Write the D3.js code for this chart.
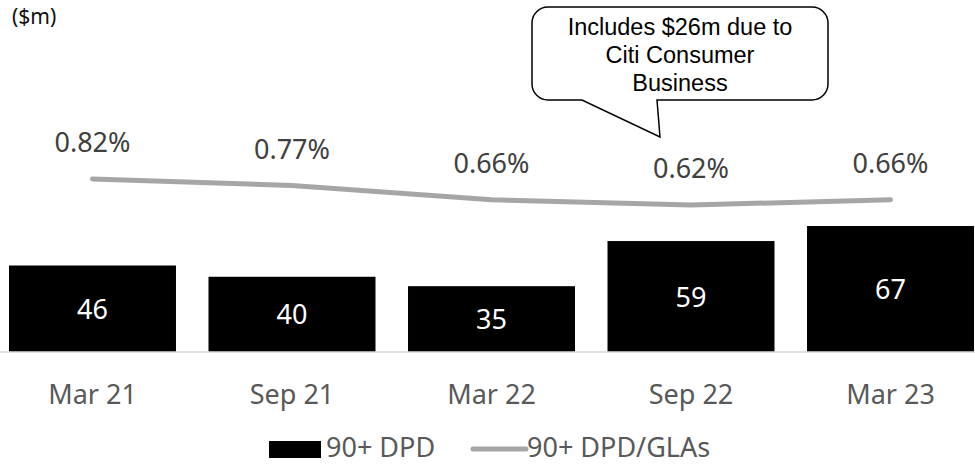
<!DOCTYPE html>
<html>
<head>
<meta charset="utf-8">
<script src="https://cdn.jsdelivr.net/npm/d3@7"></script>
<style>
  html, body { margin: 0; padding: 0; background: #fff; }
  svg { display: block; }
</style>
</head>
<body>
<script>
const categories = ["Mar 21", "Sep 21", "Mar 22", "Sep 22", "Mar 23"];
const dpdValues = [46, 40, 35, 59, 67];
const ratioValues = [0.82, 0.77, 0.66, 0.62, 0.66];
const ratioLabels = ["0.82%", "0.77%", "0.66%", "0.62%", "0.66%"];
const unitLabel = "($m)";
const calloutLines = ["Includes $26m due to", "Citi Consumer", "Business"];
const legendLabels = ["90+ DPD", "90+ DPD/GLAs"];

const W = 975, H = 464;
const svg = d3.select("body").append("svg").attr("width", W).attr("height", H);

const font = "'Noto Sans', sans-serif";

const x = d3.scaleBand().domain(categories).range([9, 974]).paddingInner(0.163).paddingOuter(0);
const y = d3.scaleLinear().domain([0, 67]).range([352, 226]);
const yr = d3.scaleLinear().domain([0, 1]).range([285.6, 155.6]);

// bars
svg.selectAll("rect.bar").data(dpdValues).join("rect")
  .attr("class", "bar")
  .attr("x", (d, i) => x(categories[i]))
  .attr("y", d => y(d))
  .attr("width", x.bandwidth())
  .attr("height", d => y(0) - y(d))
  .attr("fill", "#000");

// bar labels
svg.selectAll("text.barlab").data(dpdValues).join("text")
  .attr("class", "barlab")
  .attr("x", (d, i) => x(categories[i]) + x.bandwidth() / 2)
  .attr("y", d => (y(d) + y(0)) / 2 + 10)
  .attr("text-anchor", "middle")
  .attr("font-family", font).attr("font-size", 27)
  .attr("fill", "#fff")
  .text(d => d);

// x axis
const xAxis = d3.axisBottom(x).tickSize(0).tickPadding(0);
const gx = svg.append("g").attr("transform", "translate(0,352)").call(xAxis);
gx.select(".domain").remove();
gx.append("line").attr("x1", 0).attr("x2", W).attr("y1", 0).attr("y2", 0)
  .attr("stroke", "#d9d9d9").attr("stroke-width", 1.5);
gx.selectAll(".tick text")
  .attr("font-family", font).attr("font-size", 27).attr("fill", "#595959")
  .attr("dy", null).attr("y", 52);

// line
const line = d3.line()
  .x((d, i) => x(categories[i]) + x.bandwidth() / 2)
  .y(d => yr(d));
svg.append("path").datum(ratioValues)
  .attr("d", line)
  .attr("fill", "none")
  .attr("stroke", "#a6a6a6")
  .attr("stroke-width", 5)
  .attr("stroke-linecap", "round")
  .attr("stroke-linejoin", "round");

svg.selectAll("text.ratiolab").data(ratioValues).join("text")
  .attr("class", "ratiolab")
  .attr("x", (d, i) => x(categories[i]) + x.bandwidth() / 2)
  .attr("y", d => yr(d) - 27)
  .attr("text-anchor", "middle")
  .attr("font-family", font).attr("font-size", 27)
  .attr("fill", "#404040")
  .text((d, i) => ratioLabels[i]);

// unit label
svg.append("text").attr("x", 12).attr("y", 24)
  .attr("font-family", font).attr("font-size", 21).attr("fill", "#111")
  .text(unitLabel);

// callout
const c = { l: 532, r: 828, t: 7, b: 100, rad: 16 };
const p = d3.path();
p.moveTo(c.l + c.rad, c.t);
p.lineTo(c.r - c.rad, c.t);
p.arcTo(c.r, c.t, c.r, c.t + c.rad, c.rad);
p.lineTo(c.r, c.b - c.rad);
p.arcTo(c.r, c.b, c.r - c.rad, c.b, c.rad);
p.lineTo(657, c.b);
p.lineTo(660, 137);
p.lineTo(582, c.b);
p.lineTo(c.l + c.rad, c.b);
p.arcTo(c.l, c.b, c.l, c.b - c.rad, c.rad);
p.lineTo(c.l, c.t + c.rad);
p.arcTo(c.l, c.t, c.l + c.rad, c.t, c.rad);
p.closePath();
svg.append("path").attr("d", p.toString())
  .attr("fill", "#fff").attr("stroke", "#000").attr("stroke-width", 1.5);
svg.selectAll("text.callout").data(calloutLines).join("text")
  .attr("class", "callout")
  .attr("x", 680)
  .attr("y", (d, i) => 35 + i * 28)
  .attr("text-anchor", "middle")
  .attr("font-family", "'Liberation Sans', Arial, sans-serif")
  .attr("font-size", 23.5)
  .attr("fill", "#000")
  .text(d => d);

// legend
const lg = svg.append("g");
lg.append("rect").attr("x", 269).attr("y", 441).attr("width", 52).attr("height", 17).attr("fill", "#000");
lg.append("text").attr("x", 326).attr("y", 457)
  .attr("font-family", font).attr("font-size", 27).attr("fill", "#595959")
  .text(legendLabels[0]);
lg.append("line").attr("x1", 473).attr("x2", 526).attr("y1", 449).attr("y2", 449)
  .attr("stroke", "#a6a6a6").attr("stroke-width", 5).attr("stroke-linecap", "round");
lg.append("text").attr("x", 527).attr("y", 457)
  .attr("font-family", font).attr("font-size", 27).attr("fill", "#595959")
  .text(legendLabels[1]);
</script>
</body>
</html>
